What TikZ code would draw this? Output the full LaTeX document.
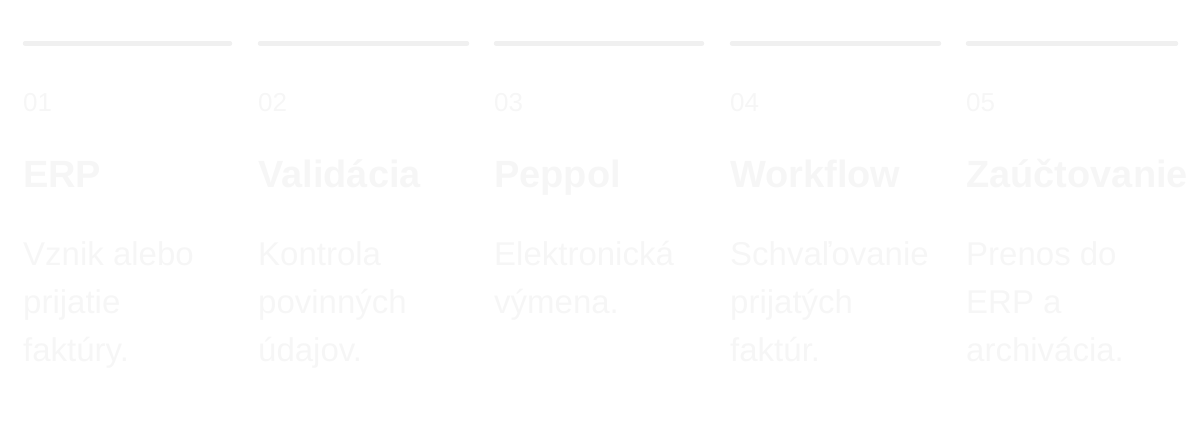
\documentclass[tikz,border=0pt]{standalone}
\usepackage{fontspec}
\setmainfont{Liberation Sans}
\usepackage{tikz}

\definecolor{ciaraSiva}{HTML}{F0F0F0}
\definecolor{textSiva}{HTML}{F6F6F6}

\begin{document}
\begin{tikzpicture}[x=1pt,y=-1pt]
% styly uzlov
\tikzstyle{cislo} = [anchor=base west, inner sep=0pt, text=textSiva, font=\fontsize{26}{30}\selectfont]
\tikzstyle{nadpis} = [anchor=base west, inner sep=0pt, text=textSiva, font=\bfseries\fontsize{38}{44}\selectfont]
\tikzstyle{popis} = [anchor=base west, inner sep=0pt, text=textSiva, align=left, font=\fontsize{33}{48}\selectfont]
% styl ciar
\tikzstyle{ciara} = [draw=ciaraSiva, line width=4.5pt, line cap=round]

\useasboundingbox (0,0) rectangle (1200,433);

%% ciary hore
\draw[ciara] (25,43.5) -- (230,43.5);
\draw[ciara] (260,43.5) -- (467,43.5);
\draw[ciara] (496,43.5) -- (702,43.5);
\draw[ciara] (732,43.5) -- (939,43.5);
\draw[ciara] (968,43.5) -- (1176,43.5);

%% cisla krokov
\node[cislo] (cislo1) at (23,112) {01};
\node[cislo] (cislo2) at (258,112) {02};
\node[cislo] (cislo3) at (494,112) {03};
\node[cislo] (cislo4) at (730,112) {04};
\node[cislo] (cislo5) at (966,112) {05};
%
%% nadpisy
\node[nadpis] (erp) at (23,188) {ERP};
\node[nadpis] (validacia) at (258,188) {Validácia};
\node[nadpis] (peppol) at (494,188) {Peppol};
\node[nadpis] (workflow) at (730,188) {Workflow};
\node[nadpis] (zauctovanie) at (966,188) {Zaúčtovanie};
%
%% popisy (base = posledny riadok)
\node[popis] (popisErp) at (23,361) {Vznik alebo\\prijatie\\faktúry.};
\node[popis] (popisValidacia) at (258,361) {Kontrola\\povinných\\údajov.};
\node[popis] (popisPeppol) at (494,313) {Elektronická\\výmena.};
\node[popis] (popisWorkflow) at (730,361) {Schvaľovanie\\prijatých\\faktúr.};
\node[popis] (popisZauctovanie) at (966,361) {Prenos do\\ERP a\\archivácia.};
\end{tikzpicture}
\end{document}
